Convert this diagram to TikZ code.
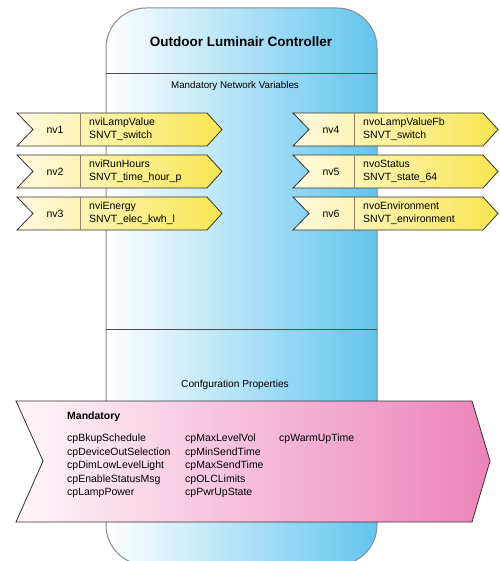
\documentclass[tikz,border=0pt]{standalone}
\usepackage{fontspec}
\setmainfont{Liberation Sans}
\usepackage{tikz}

\definecolor{ctrlblue}{RGB}{98,197,238}
\definecolor{nvcream}{RGB}{255,250,224}
\definecolor{nvyellow}{RGB}{248,230,80}
\definecolor{cplight}{RGB}{255,246,250}
\definecolor{cppink}{RGB}{236,132,184}

\tikzset{
  nvbox/.style={draw=black!80, line width=0.8pt, left color=nvcream, right color=nvyellow},
  nvlabel/.style={font=\fontsize{10.5}{13}\selectfont, inner sep=0pt},
  nvtext/.style={font=\fontsize{10.5}{13}\selectfont, align=left, anchor=west, inner sep=0pt},
  cptext/.style={font=\fontsize{10.5}{13.5}\selectfont, align=left, anchor=north west, inner sep=0pt},
  header/.style={font=\fontsize{9.8}{12}\selectfont, inner sep=0pt}
}

\begin{document}
\begin{tikzpicture}[x=1pt, y=-1pt]
      \useasboundingbox (0,0) rectangle (499,561);
      % controller body
      \shade[left color=white, right color=ctrlblue, rounded corners=40pt] (106,8) rectangle (377,565);
      \draw[black!45, line width=1pt, rounded corners=40pt] (106,8) rectangle (377,565);
      \draw[black!70, line width=0.8pt] (106,73) -- (377,73);
      \draw[black!70, line width=0.8pt] (106,329) -- (377,329);
      \node[font=\fontsize{13.5}{16}\selectfont\bfseries, inner sep=0pt] (title) at (241,42) {Outdoor Luminair Controller};
      \node[header] (nvhead) at (235,86) {Mandatory Network Variables};
      \node[header, font=\fontsize{10.2}{12}\selectfont] (cphead) at (235,385) {Confguration Properties};

      % input variables
      \draw[nvbox] (17,113) -- ++(190,0) -- ++(15,16.5) -- ++(-15,16.5) -- ++(-190,0) -- ++(16,-16.5) -- cycle;
      \draw[nvbox] (17,155) -- ++(190,0) -- ++(15,16.5) -- ++(-15,16.5) -- ++(-190,0) -- ++(16,-16.5) -- cycle;
      \draw[nvbox] (17,197) -- ++(190,0) -- ++(15,16.5) -- ++(-15,16.5) -- ++(-190,0) -- ++(16,-16.5) -- cycle;
      \draw[brown!40!gray, line width=0.6pt] (80,113) -- (80,146);
      \draw[brown!40!gray, line width=0.6pt] (80,155) -- (80,188);
      \draw[brown!40!gray, line width=0.6pt] (80,197) -- (80,230);
      \node[nvlabel] (nv1) at (55,129.5) {nv1};
      \node[nvlabel] (nv2) at (55,171.5) {nv2};
      \node[nvlabel] (nv3) at (55,213.5) {nv3};
      \node[nvtext] (lampvalue) at (89,129.5) {nviLampValue\\SNVT\_switch};
      \node[nvtext] (runhours) at (89,171.5) {nviRunHours\\SNVT\_time\_hour\_p};
      \node[nvtext] (energy) at (89,213.5) {nviEnergy\\SNVT\_elec\_kwh\_l};

      % output variables
      \draw[nvbox] (293,113) -- ++(190,0) -- ++(15,16.5) -- ++(-15,16.5) -- ++(-190,0) -- ++(16,-16.5) -- cycle;
      \draw[nvbox] (293,155) -- ++(190,0) -- ++(15,16.5) -- ++(-15,16.5) -- ++(-190,0) -- ++(16,-16.5) -- cycle;
      \draw[nvbox] (293,197) -- ++(190,0) -- ++(15,16.5) -- ++(-15,16.5) -- ++(-190,0) -- ++(16,-16.5) -- cycle;
      \draw[brown!40!gray, line width=0.6pt] (354,113) -- (354,146);
      \draw[brown!40!gray, line width=0.6pt] (354,155) -- (354,188);
      \draw[brown!40!gray, line width=0.6pt] (354,197) -- (354,230);
      \node[nvlabel] (nv4) at (331,129.5) {nv4};
      \node[nvlabel] (nv5) at (331,171.5) {nv5};
      \node[nvlabel] (nv6) at (331,213.5) {nv6};
      \node[nvtext] (lampfb) at (363,129.5) {nvoLampValueFb\\SNVT\_switch};
      \node[nvtext] (status) at (363,171.5) {nvoStatus\\SNVT\_state\_64};
      \node[nvtext] (environment) at (363,213.5) {nvoEnvironment\\SNVT\_environment};

      % configuration properties
      \draw[black!80, line width=0.8pt, left color=cplight, right color=cppink] (16,401) -- (472,401) -- (490,461) -- (472,522) -- (16,522) -- (43,461) -- cycle;
      \node[font=\fontsize{10.5}{13}\selectfont\bfseries, anchor=west, inner sep=0pt] (mandatory) at (67,417) {Mandatory};
      \node[cptext] (cpcola) at (67,434) {cpBkupSchedule\\cpDeviceOutSelection\\cpDimLowLevelLight\\cpEnableStatusMsg\\cpLampPower};
      \node[cptext] (cpcolb) at (185,434) {cpMaxLevelVol\\cpMinSendTime\\cpMaxSendTime\\cpOLCLimits\\cpPwrUpState};
      \node[cptext] (cpcolc) at (279,434) {cpWarmUpTime};
\end{tikzpicture}
\end{document}
